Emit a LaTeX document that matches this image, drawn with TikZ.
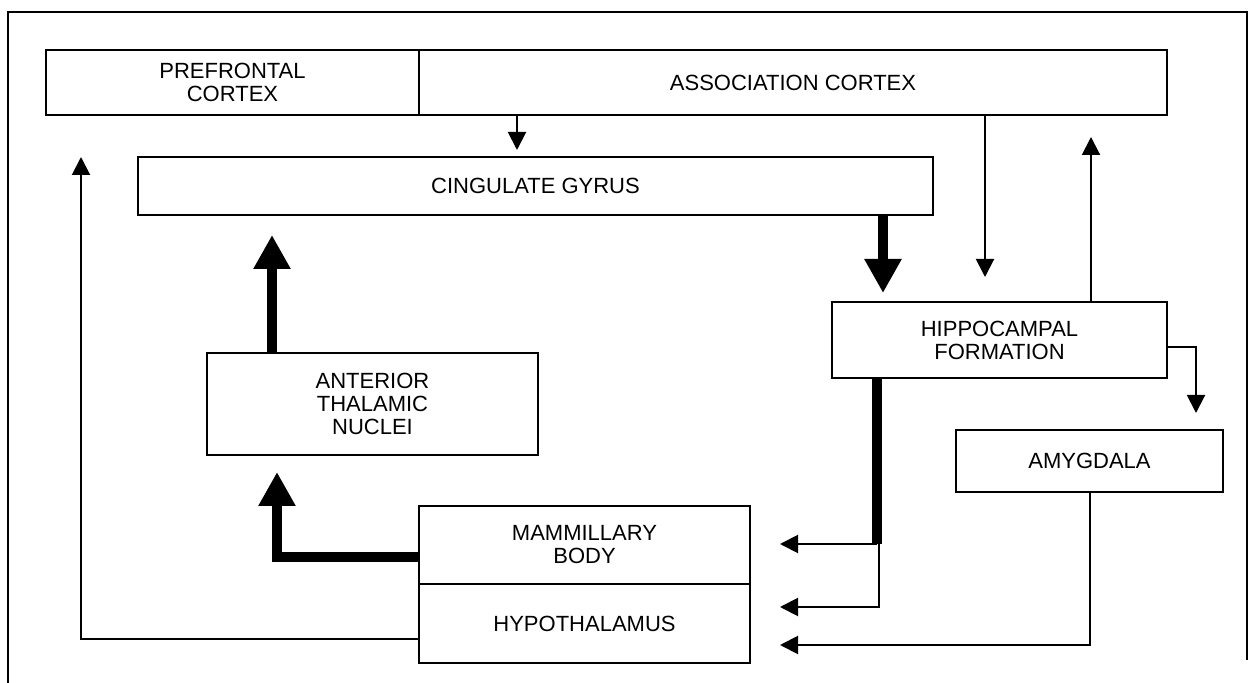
\documentclass[tikz,border=0pt]{standalone}
\usepackage{fontspec}
\setmainfont{Liberation Sans}
\usetikzlibrary{arrows.meta}

\begin{document}
\begin{tikzpicture}[
    x=0.5pt, y=-0.5pt,
    font=\fontsize{11}{11.5}\selectfont,
    region/.style={rectangle, draw, line width=1pt, align=center, inner sep=0pt},
    thinarrow/.style={line width=1pt, -{Triangle[width=9pt,length=9pt]}},
    thickarrow/.style={line width=5pt, -{Triangle[width=17.5pt,length=17pt]}},
    thickline/.style={line width=5pt}
]
\useasboundingbox (0,0) rectangle (1253,683);
\draw[line width=1pt] (8,683) -- (8,12) -- (1247,12) -- (1247,660);

% boxes
\node[region, minimum width=186.5pt, minimum height=32.5pt] (pre) at (232.5,82.5) {PREFRONTAL\\CORTEX};
\node[region, minimum width=374pt, minimum height=32.5pt] (assoc) at (793,82.5) {ASSOCIATION CORTEX};
\node[region, minimum width=397.5pt, minimum height=29pt] (cing) at (535.5,186) {CINGULATE GYRUS};
\node[region, minimum width=167.5pt, minimum height=38pt] (hippo) at (999.5,340) {HIPPOCAMPAL\\FORMATION};
\node[region, minimum width=133.5pt, minimum height=31pt] (amyg) at (1089.5,461) {AMYGDALA};
\node[region, minimum width=165.5pt, minimum height=51pt] (atn) at (372.5,404) {ANTERIOR\\THALAMIC\\NUCLEI};
\node[region, minimum width=165.5pt, minimum height=39pt] (mamm) at (584.5,545) {MAMMILLARY\\BODY};
\node[region, minimum width=165.5pt, minimum height=39.5pt] (hypo) at (584.5,623.5) {HYPOTHALAMUS};

% arrow tips and bends
\coordinate (tipcing) at (517,150);
\coordinate (tiphipA) at (985,277);
\coordinate (tiphipB) at (883,293);
\coordinate (tipassoc) at (1091,137);
\coordinate (tipamyg) at (1196,413);
\coordinate (tipcingB) at (272,235);
\coordinate (tipatn) at (277,472);
\coordinate (tippre) at (81,157);
\coordinate (hipjoin) at (877,544);
\coordinate (tipmamm) at (780,544);
\coordinate (tiphypoA) at (780,607);
\coordinate (tiphypoB) at (780,645);

% connectors
\draw[thinarrow] (assoc.south -| tipcing) -- (tipcing);
\draw[thinarrow] (assoc.south -| tiphipA) -- (tiphipA);
\draw[thinarrow] (hippo.north -| tipassoc) -- (tipassoc);
\draw[thickarrow] (cing.south -| tiphipB) -- (tiphipB);
\draw[thinarrow] ([yshift=-3.5pt]hippo.east) -| (tipamyg);
\draw[thickarrow] (atn.north -| tipcingB) -- (tipcingB);
\draw[thickarrow] ([yshift=-6pt]mamm.west) -| (tipatn);
\draw[thinarrow] ([yshift=-8pt]hypo.west) -| (tippre);
\draw[thickline] (hippo.south -| hipjoin) -- (hipjoin);
\draw[thinarrow] (hipjoin) -- (tipmamm);
\draw[thinarrow] ([xshift=1pt]hipjoin) |- (tiphypoA);
\draw[thinarrow] (amyg.south) |- (tiphypoB);
\end{tikzpicture}
\end{document}
